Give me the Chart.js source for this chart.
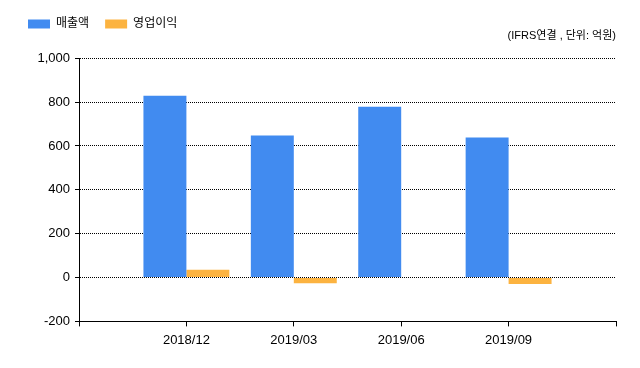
<!DOCTYPE html>
<html>
<head>
<meta charset="utf-8">
<script src="https://cdn.jsdelivr.net/npm/chart.js@4"></script>
<style>
  html, body { margin: 0; padding: 0; background: #fff; }
</style>
</head>
<body>
<canvas id="myChart" width="640" height="368"></canvas>
<script>
var categories = ['2018/12', '2019/03', '2019/06', '2019/09'];
var sales = [829, 647, 779, 638];
var profit = [36, -26, 0, -30];
var seriesNames = ['매출액', '영업이익'];
var yTicks = [-200, 0, 200, 400, 600, 800, 1000];

// empty slot at both ends so the labels sit on the inner tick marks
var labels = [''].concat(categories, ['']);
var salesData = [null].concat(sales, [null]);
var profitData = [null].concat(profit, [null]);

var fontFamily = '"Liberation Sans", Arial, "Noto Sans CJK KR", sans-serif';

const ctx = document.getElementById('myChart');

new Chart(ctx, {
    type: 'bar',
    data: {
        labels: labels,
        datasets: [{
            label: seriesNames[0],
            backgroundColor: 'rgb(65, 139, 240)',
            data: salesData
        },
        {
            label: seriesNames[1],
            backgroundColor: 'rgb(252, 179, 64)',
            data: profitData
        }]
    },
    options: {
        responsive: false,
        animation: false,
        layout: {
            padding: { left: 12, right: 24, top: 2, bottom: 14 }
        },
        datasets: {
            bar: {
                categoryPercentage: 0.8,
                barPercentage: 1.0
            }
        },
        plugins: {
            legend: {
                position: 'top',
                align: 'start',
                labels: {
                    boxWidth: 22,
                    boxHeight: 9,
                    padding: 16,
                    color: '#000',
                    font: { family: fontFamily, size: 12 }
                }
            },
            subtitle: {
                display: true,
                text: '(IFRS연결 , 단위: 억원)',
                align: 'end',
                position: 'top',
                weight: 500,
                color: '#000',
                font: { family: fontFamily, size: 11, weight: 'normal' },
                padding: { top: -11, bottom: 16 }
            },
            tooltip: { enabled: false }
        },
        scales: {
            x: {
                offset: false,
                grid: {
                    offset: false,
                    drawOnChartArea: false,
                    drawTicks: true,
                    tickLength: 5,
                    tickColor: '#000'
                },
                border: { color: '#000', width: 1 },
                ticks: {
                    color: '#000',
                    padding: 6,
                    maxRotation: 0,
                    autoSkip: false,
                    font: { family: fontFamily, size: 13 }
                }
            },
            y: {
                min: yTicks[0],
                max: yTicks[yTicks.length - 1],
                afterBuildTicks: function (scale) {
                    scale.ticks = yTicks.map(function (v) { return { value: v }; });
                },
                afterFit: function (scale) {
                    scale.width = 67;
                },
                grid: {
                    color: '#000',
                    lineWidth: 1,
                    tickLength: 4,
                    tickColor: '#000',
                    tickBorderDash: []
                },
                border: { color: '#000', width: 1, dash: [1, 1] },
                ticks: {
                    color: '#000',
                    padding: 5,
                    font: { family: fontFamily, size: 13 }
                }
            }
        }
    }
});
</script>
</body>
</html>
